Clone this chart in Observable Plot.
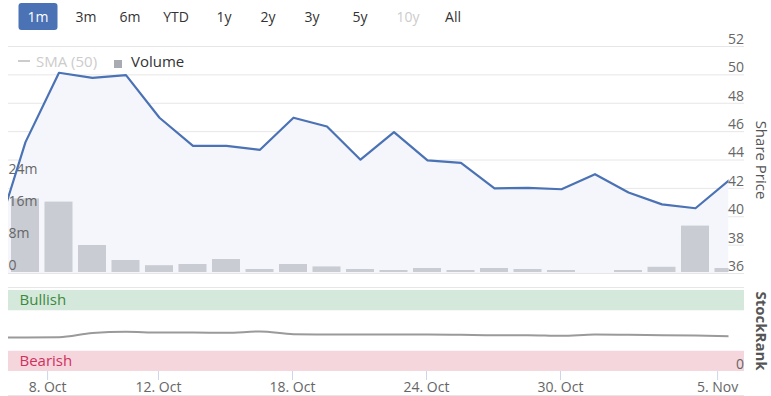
<!DOCTYPE html>
<html>
<head>
<meta charset="utf-8">
<script src="https://cdn.jsdelivr.net/npm/d3@7"></script>
<script src="https://cdn.jsdelivr.net/npm/@observablehq/plot@0.6"></script>
<style>
  body { margin: 0; background: #fff; }
  #wrap { position: relative; width: 771px; height: 396px; overflow: hidden; background: #fff; font-family: "Open Sans", sans-serif; }
  #wrap svg { position: absolute; left: 0; top: 0; }
  .btn { position: absolute; top: 3px; height: 27px; line-height: 27px; font-size: 14px; color: #333; text-align: center; transform: translateX(-50%); white-space: nowrap; }
  .btn.sel { background: #4a72b5; color: #fff; border-radius: 3px; width: 39px; }
  .btn.dis { color: #cccccc; }
  .lg { position: absolute; top: 51px; font-size: 15px; line-height: 20px; white-space: nowrap; }
</style>
</head>
<body>
<div id="wrap"></div>
<script>
// ---- data ----
const dayIndex = d3.range(-1, 22);            // trading-day positions (index -1 is just off-chart)
const prices = [37.7, 45.26, 50.15, 49.79, 49.98, 46.98, 45.0, 45.0, 44.72, 46.98, 46.36, 44.02,
                45.96, 43.97, 43.8, 42.0, 42.04, 41.94, 43.0, 41.71, 40.87, 40.6, 42.56];
const volumes = [18.4, 17.6, 6.75, 3.0, 1.7, 2.0, 3.25, 0.75, 2.0, 1.4, 0.75, 0.5,
                 1.0, 0.5, 1.0, 0.75, 0.5, 0, 0.5, 1.3, 11.6, 1.0];   // millions, index 0..21
const ranks = [42, 42, 42.3, 47.5, 49, 48, 48, 47.7, 49.4, 46, 45.7, 45.7,
               45.7, 45.7, 45.3, 44.8, 44.8, 44, 45.7, 45.3, 44.8, 44.4, 43.6];
const tickPos = [0.66, 3.97, 7.97, 11.97, 15.97, 20.66];
const tickLabels = ["8. Oct", "12. Oct", "18. Oct", "24. Oct", "30. Oct", "5. Nov"];
const priceTicks = [36, 38, 40, 42, 44, 46, 48, 50, 52];
const volumeTicks = [0, 8, 16, 24];
const rankTicks = [0];
const bands = [{label: "Bullish", lo: 75, hi: 100}, {label: "Bearish", lo: 0, hi: 25}];
const buttons = ["1m", "3m", "6m", "YTD", "1y", "2y", "3y", "5y", "10y", "All"];
const selectedButton = "1m";
const disabledButtons = ["10y"];

// ---- layout ----
const W = 771, H = 396;
const xDomain = [-0.507, 21];
const xExtra = 15.5 / 33.5;   // grid lines run a little past the last point
const baseStyle = {background: "transparent", overflow: "visible", fontFamily: "Open Sans, sans-serif", fontSize: "14px"};
const priceData = dayIndex.map((d, i) => ({d, p: prices[i]}));
const rankData = dayIndex.map((d, i) => ({d, r: ranks[i]}));
const volData = volumes.map((v, i) => ({d: i, v}));

const common = {
  width: W, height: H, marginLeft: 8, marginRight: 42.5,
  style: baseStyle
};

// Price panel: grid + area
const priceScale = {domain: [36, 52], range: [273, 46], axis: null};
const p1 = Plot.plot({
  ...common, marginTop: 46, marginBottom: 123,
  x: {domain: xDomain, axis: null},
  y: priceScale,
  marks: [
    Plot.ruleY(priceTicks, {y: d => d, x1: xDomain[0], x2: xDomain[1] + xExtra, stroke: "#e6e6e6", strokeWidth: 1}),
    Plot.areaY(priceData, {x: "d", y1: 36, y2: "p", fill: "#f4f6fb", clip: true}),
    Plot.text(priceTicks, {y: d => d, text: d => String(d), frameAnchor: "right", textAnchor: "end", dx: 15, dy: -7, fill: "#666", fontSize: 14}),
    Plot.text(["Share Price"], {text: d => d, frameAnchor: "right", textAnchor: "middle", dx: 32, rotate: 90, fill: "#555", fontSize: 15})
  ]
});

// Volume panel
const p2 = Plot.plot({
  ...common, marginTop: 46, marginBottom: 123,
  x: {domain: xDomain, axis: null},
  y: {domain: [0, 56.5], range: [272, 46], axis: null},
  marks: [
    Plot.rectY(volData, {x1: d => d.d - 0.418, x2: d => d.d + 0.418, y1: 0, y2: "v", fill: "#c9ccd3", clip: true}),
    Plot.text(volumeTicks, {y: d => d, text: d => d === 0 ? "0" : d + "m", frameAnchor: "left", textAnchor: "start", dy: -7, fill: "#666", fontSize: 14})
  ]
});

// Price line on top
const p3 = Plot.plot({
  ...common, marginTop: 46, marginBottom: 123,
  x: {domain: xDomain, axis: null},
  y: priceScale,
  marks: [
    Plot.lineY(priceData, {x: "d", y: "p", stroke: "#4a72b5", strokeWidth: 2.2, clip: true})
  ]
});

// StockRank panel + x axis
const p4 = Plot.plot({
  ...common, marginTop: 290, marginBottom: 25,
  x: {domain: xDomain, axis: null},
  y: {domain: [0, 100], axis: null},
  marks: [
    Plot.ruleY([100], {y: d => d, x1: xDomain[0], x2: xDomain[1] + xExtra, dy: -3, stroke: "#e6e6e6"}),
    Plot.rectY(bands, {x1: xDomain[0], x2: xDomain[1] + xExtra, y1: "lo", y2: "hi", fill: d => d.label === "Bullish" ? "#d5e8dc" : "#f5d6dd"}),
    Plot.text(bands, {x: xDomain[0], y: d => (d.lo + d.hi) / 2, text: "label", textAnchor: "start", dx: 11, fill: d => d.label === "Bullish" ? "#3b8a3b" : "#d0315d", fontSize: 15}),
    Plot.lineY(rankData, {x: "d", y: "r", stroke: "#9a9a9a", strokeWidth: 2, curve: "monotone-x", clip: true}),
    Plot.text(rankTicks, {y: d => d, text: d => String(d), frameAnchor: "right", textAnchor: "end", dx: 15, dy: -7, fill: "#666", fontSize: 14}),
    Plot.text(["StockRank"], {text: d => d, frameAnchor: "right", textAnchor: "middle", dx: 32, rotate: 90, fill: "#555", fontSize: 15, fontWeight: "bold"}),
    Plot.ruleX(tickPos, {x: d => d, y1: 0, y2: 0, insetBottom: -9, stroke: "#ccd6eb"}),
    Plot.text(tickPos, {x: d => d, y: 0, text: (d, i) => tickLabels[i], dy: 16, fill: "#666", fontSize: 14}),
    Plot.ruleY([0], {y: d => d, x1: xDomain[0], x2: xDomain[1] + xExtra, dy: 24, stroke: "#e6e6e6"})
  ]
});

const wrap = document.getElementById("wrap");
[p1, p2, p3, p4].forEach(s => wrap.appendChild(s));

// range selector buttons
const btnCenters = [38, 86, 130, 176, 224, 268, 312, 360, 408, 453];
buttons.forEach((b, i) => {
  const el = document.createElement("div");
  el.className = "btn" + (b === selectedButton ? " sel" : "") + (disabledButtons.includes(b) ? " dis" : "");
  el.style.left = btnCenters[i] + "px";
  el.textContent = b;
  wrap.appendChild(el);
});

// legend
function addLegend(left, html) {
  const el = document.createElement("div");
  el.className = "lg";
  el.style.left = left + "px";
  el.innerHTML = html;
  wrap.appendChild(el);
}
addLegend(18, '<span style="display:inline-block;width:12px;height:2px;background:#cccccc;vertical-align:5px"></span>');
addLegend(36, '<span style="color:#cccccc">SMA (50)</span>');
addLegend(114, '<span style="display:inline-block;width:8px;height:8px;background:#a9abb2;vertical-align:-1px"></span>');
addLegend(131, '<span style="color:#333">Volume</span>');
</script>
</body>
</html>
